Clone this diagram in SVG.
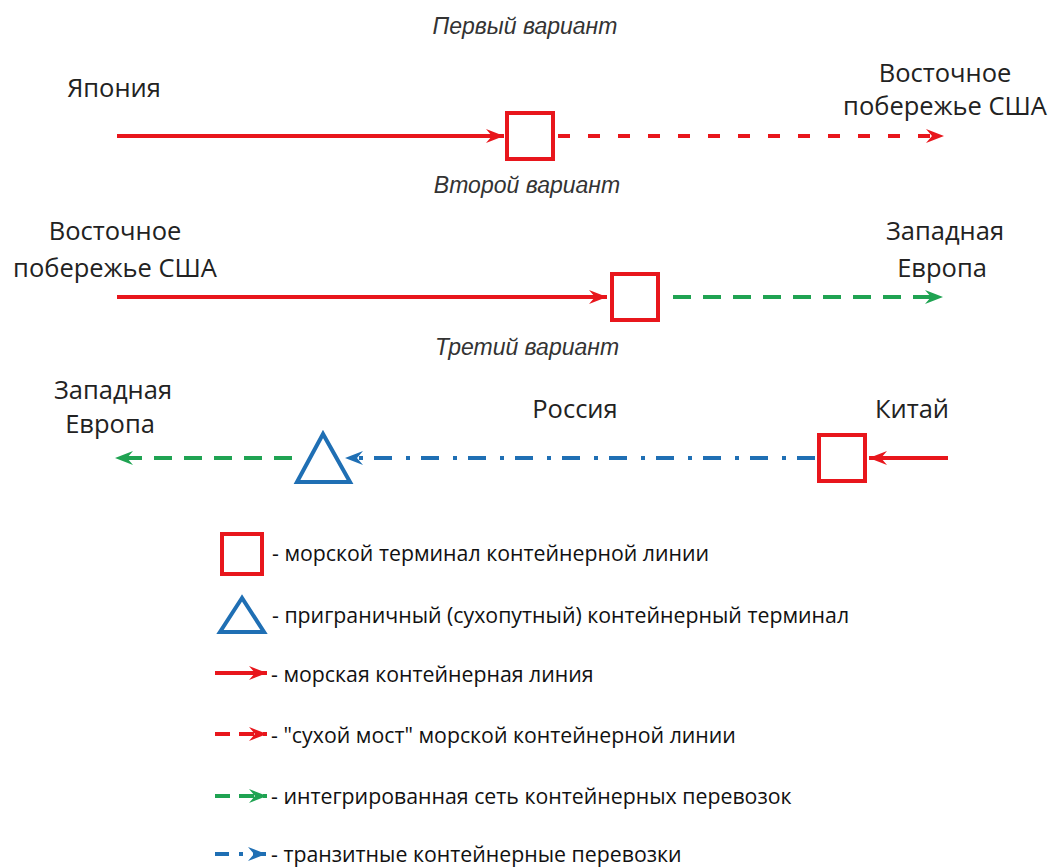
<svg xmlns="http://www.w3.org/2000/svg" width="1053" height="867" viewBox="0 0 1053 867">
<style>
.lbl{font-family:"Open Sans","Noto Sans",sans-serif;font-size:25.5px;fill:#222;text-anchor:middle}
.ttl{font-family:"Liberation Sans",Arial,sans-serif;font-style:italic;font-size:23px;fill:#333;text-anchor:middle}
.leg{font-family:"Open Sans","Noto Sans",sans-serif;font-size:21.3px;fill:#111}
.red{stroke:#e8161c;stroke-width:4;fill:none}
.redd{stroke:#e8161c;stroke-width:4;fill:none;stroke-dasharray:12 18}
.grn{stroke:#1fa352;stroke-width:4;fill:none;stroke-dasharray:18 12}
.blu{stroke:#1f6fb4;stroke-width:4;fill:none;stroke-dasharray:18 11 4 14}
.sq{stroke:#e8161c;stroke-width:4;fill:#fff}
.tri{stroke:#1f6fb4;stroke-width:4;fill:#fff;stroke-linejoin:miter}
</style>
<defs>
<marker id="ar" markerUnits="userSpaceOnUse" markerWidth="20" markerHeight="16" refX="18" refY="8" orient="auto"><path d="M0,1 L18,8 L0,15 L6,8 Z" fill="#e8161c"/></marker>
<marker id="ag" markerUnits="userSpaceOnUse" markerWidth="20" markerHeight="16" refX="18" refY="8" orient="auto"><path d="M0,1 L18,8 L0,15 L6,8 Z" fill="#1fa352"/></marker>
<marker id="ab" markerUnits="userSpaceOnUse" markerWidth="20" markerHeight="16" refX="18" refY="8" orient="auto"><path d="M0,1 L18,8 L0,15 L6,8 Z" fill="#1f6fb4"/></marker>
</defs>

<g id="titles">
<text class="ttl" x="525" y="34">Первый вариант</text>
<text class="ttl" x="527" y="193">Второй вариант</text>
<text class="ttl" x="527" y="355">Третий вариант</text>
</g>

<g id="connectors">
<line class="red" x1="117" y1="136" x2="504" y2="136" marker-end="url(#ar)"/>
<line class="redd" x1="558" y1="136" x2="944" y2="136" marker-end="url(#ar)"/>
<line class="red" x1="117" y1="297" x2="607" y2="297" marker-end="url(#ar)"/>
<line class="grn" x1="673" y1="297" x2="943" y2="297" marker-end="url(#ag)"/>
<line class="red" x1="948" y1="458" x2="869" y2="458" marker-end="url(#ar)"/>
<line class="blu" x1="815" y1="458" x2="345" y2="458" marker-end="url(#ab)"/>
<line class="grn" x1="292" y1="458" x2="115" y2="458" marker-end="url(#ag)"/>
</g>

<g id="node-japan"><text class="lbl" x="114" y="97">Япония</text></g>
<g id="node-usa-east-1"><text class="lbl" x="945" y="82">Восточное</text><text class="lbl" x="945" y="115">побережье США</text></g>
<g id="node-terminal-1"><rect class="sq" x="507" y="113" width="46" height="46"/></g>

<g id="node-usa-east-2"><text class="lbl" x="115" y="240">Восточное</text><text class="lbl" x="115" y="277">побережье США</text></g>
<g id="node-europe-2"><text class="lbl" x="945" y="240">Западная</text><text class="lbl" x="942" y="277">Европа</text></g>
<g id="node-terminal-2"><rect class="sq" x="612" y="274" width="46" height="46"/></g>

<g id="node-europe-3"><text class="lbl" x="113" y="399">Западная</text><text class="lbl" x="110" y="433">Европа</text></g>
<g id="node-russia"><text class="lbl" x="575" y="418">Россия</text></g>
<g id="node-china"><text class="lbl" x="912" y="418">Китай</text></g>
<g id="node-border-terminal"><polygon class="tri" points="323,434 297,482 350,482"/></g>
<g id="node-terminal-3"><rect class="sq" x="819" y="435" width="46" height="46"/></g>

<g id="legend">
<rect class="sq" x="222" y="534" width="40" height="40"/>
<text class="leg" x="272" y="561">- морской терминал контейнерной линии</text>
<polygon class="tri" points="242,598 220,632 264,632"/>
<text class="leg" x="272" y="623">- приграничный (сухопутный) контейнерный терминал</text>
<line class="red" x1="215" y1="673" x2="267" y2="673" marker-end="url(#ar)"/>
<text class="leg" x="271" y="682">- морская контейнерная линия</text>
<line class="red" x1="215" y1="734" x2="267" y2="734" marker-end="url(#ar)" style="stroke-dasharray:15 9"/>
<text class="leg" x="271" y="743">- "сухой мост" морской контейнерной линии</text>
<line class="grn" x1="215" y1="796" x2="267" y2="796" marker-end="url(#ag)" style="stroke-dasharray:15 9"/>
<text class="leg" x="271" y="804">- интегрированная сеть контейнерных перевозок</text>
<line class="blu" x1="215" y1="854" x2="266" y2="854" marker-end="url(#ab)" style="stroke-dasharray:14 10 4 10"/>
<text class="leg" x="271" y="862">- транзитные контейнерные перевозки</text>
</g>
</svg>
